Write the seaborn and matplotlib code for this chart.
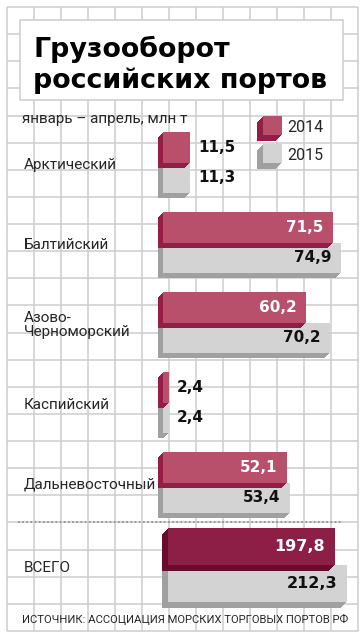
import numpy as np
import pandas as pd
import seaborn as sns
import matplotlib
matplotlib.use("Agg")
import matplotlib.pyplot as plt
from matplotlib.patches import Rectangle
from matplotlib.transforms import ScaledTranslation, blended_transform_factory

# ---------------- data ----------------
regions = ["Арктический", "Балтийский", "Азово-\nЧерноморский", "Каспийский", "Дальневосточный"]
vals_2014 = [11.5, 71.5, 60.2, 2.4, 52.1]
vals_2015 = [11.3, 74.9, 70.2, 2.4, 53.4]
total_label = ["ВСЕГО"]
total_2014 = [197.8]
total_2015 = [212.3]
years = ["2014", "2015"]
title_lines = ["Грузооборот", "российских портов"]
subtitle = "январь – апрель, млн т"
source = "ИСТОЧНИК: АССОЦИАЦИЯ МОРСКИХ ТОРГОВЫХ ПОРТОВ РФ"

# ---------------- style ----------------
sns.set_theme(style="white")
plt.rcParams['font.family'] = ['Roboto', 'DejaVu Sans']

W, H, DPI = 364, 640, 100
RED, RED_SIDE = "#b8506b", "#951d45"
DRED, DRED_SIDE = "#8d1f46", "#680c2e"
GRAY, GRAY_SIDE = "#d3d3d3", "#a0a0a0"
GRID = "#cdcdcd"

fig = plt.figure(figsize=(W / DPI, H / DPI), dpi=DPI)
fig.patch.set_facecolor("white")

# background grid (pixel coordinates)
bg = fig.add_axes([0, 0, 1, 1], zorder=0)
bg.set_xlim(0, W)
bg.set_ylim(H, 0)
bg.axis("off")
x0g, x1g, y0g, y1g = 7, 358, 7, 631
for x in np.linspace(x0g, x1g, 14):
    bg.plot([x, x], [y0g, y1g], color=GRID, lw=1.1, zorder=1, solid_capstyle="butt")
for y in np.linspace(y0g, y1g, 24):
    bg.plot([x0g, x1g], [y, y], color=GRID, lw=1.1, zorder=1, solid_capstyle="butt")

# title box
bg.add_patch(Rectangle((20, 20), 323, 80, facecolor="white", edgecolor=GRID, lw=1.1, zorder=2))
bg.text(33, 57, title_lines[0], fontsize=19.4, fontweight="bold", color="black",
        family="DejaVu Sans", va="baseline", ha="left", zorder=3)
bg.text(33, 88, title_lines[1], fontsize=19.4, fontweight="bold", color="black",
        family="DejaVu Sans", va="baseline", ha="left", zorder=3)

bg.text(22, 119, subtitle, fontsize=11, va="center", ha="left", zorder=3)

# legend (3D squares)
def box3d(axis, x, y, w, h, front, side, depth):
    for k in range(depth, 0, -1):
        axis.add_patch(Rectangle((x - k, y + k), w, h, facecolor=side, edgecolor="none", zorder=3))
    axis.add_patch(Rectangle((x, y), w, h, facecolor=front, edgecolor="none", zorder=4))

box3d(bg, 263, 116, 19, 19, RED, RED_SIDE, 6)
box3d(bg, 263, 144, 19, 19, GRAY, GRAY_SIDE, 6)
bg.text(287, 127, years[0], fontsize=11.5, va="center", ha="left", zorder=5)
bg.text(287, 155, years[1], fontsize=11.5, va="center", ha="left", zorder=5)

# dotted separator
bg.plot([18, 343], [522, 522], color="#8a8a8a", lw=1.2, linestyle=(0, (1, 1.5)), zorder=3)

# source
bg.text(22, 619, source, fontsize=8.15, va="center", ha="left", zorder=3)


def fmt(v):
    return f"{v:.1f}".replace(".", ",")


def draw_panel(ax, df, cats, colors, sides, width, depth, thresh, label_fs):
    sns.barplot(data=df, y="cat", x="value", hue="year", hue_order=years, order=cats,
                palette=colors, width=width, orient="h", ax=ax, legend=False,
                saturation=1, linewidth=0)
    # 3D extrusion (down-left), earlier hue level drawn on top
    for hi, cont in enumerate(ax.containers):
        z = 10 - 3 * hi
        for p in cont.patches:
            p.set_zorder(z + 1)
            for k in range(depth, 0, -1):
                tr = ax.transData + ScaledTranslation(-k / DPI, -k / DPI, fig.dpi_scale_trans)
                ax.add_patch(Rectangle(p.get_xy(), p.get_width(), p.get_height(),
                                       facecolor=sides[hi], edgecolor="none",
                                       transform=tr, zorder=z, clip_on=False))
            v = p.get_width()
            yc = p.get_y() + p.get_height() / 2
            if v > thresh:
                ax.annotate(fmt(v), (v, yc), xytext=(-7, 0), textcoords="offset points",
                            ha="right", va="center", fontsize=label_fs, fontweight="bold",
                            family="DejaVu Sans",
                            color="white" if hi == 0 else "#111111", zorder=20)
            else:
                ax.annotate(fmt(v), (v, yc), xytext=(6, 0), textcoords="offset points",
                            ha="left", va="center", fontsize=label_fs, fontweight="bold",
                            family="DejaVu Sans", color="#111111", zorder=20)
    ax.axis("off")
    ax.patch.set_alpha(0)


# regional panel: x=0 at 163px, 2.38 px per unit; category spacing 80 px
reg_df = pd.DataFrame({
    "cat": regions * 2,
    "year": [years[0]] * len(regions) + [years[1]] * len(regions),
    "value": vals_2014 + vals_2015,
})
left_px, right_px = 163, 358
top_px, bot_px = 122.5, 522.5
ax = fig.add_axes([left_px / W, 1 - bot_px / H, (right_px - left_px) / W, (bot_px - top_px) / H],
                  zorder=2)
draw_panel(ax, reg_df, regions, [RED, GRAY], [RED_SIDE, GRAY_SIDE], 0.76, 5, 20, 11)
ax.set_xlim(0, (right_px - left_px) / 2.38)
ax.set_ylim(len(regions) - 0.5, -0.5)
tr_lab = blended_transform_factory(fig.transFigure, ax.transData)
for i, r in enumerate(regions):
    ax.text(24 / W, i + 0.03, r, transform=tr_lab, fontsize=11, ha="left", va="center",
            linespacing=0.95, clip_on=False)

# total panel: x=0 at 168px, 0.843 px per unit
tot_df = pd.DataFrame({"cat": total_label * 2, "year": years, "value": total_2014 + total_2015})
left_px2 = 168
top2, bot2 = 518.75, 611.25
ax2 = fig.add_axes([left_px2 / W, 1 - bot2 / H, (right_px - left_px2) / W, (bot2 - top2) / H],
                   zorder=2)
draw_panel(ax2, tot_df, total_label, [DRED, GRAY], [DRED_SIDE, GRAY_SIDE], 0.8, 6, 20, 11.5)
ax2.set_xlim(0, (right_px - left_px2) / 0.843)
ax2.set_ylim(0.5, -0.5)
tr_lab2 = blended_transform_factory(fig.transFigure, ax2.transData)
ax2.text(24 / W, 0.03, total_label[0], transform=tr_lab2, fontsize=11, ha="left", va="center",
         clip_on=False)

fig.savefig("out.png", dpi=DPI, facecolor="white")
